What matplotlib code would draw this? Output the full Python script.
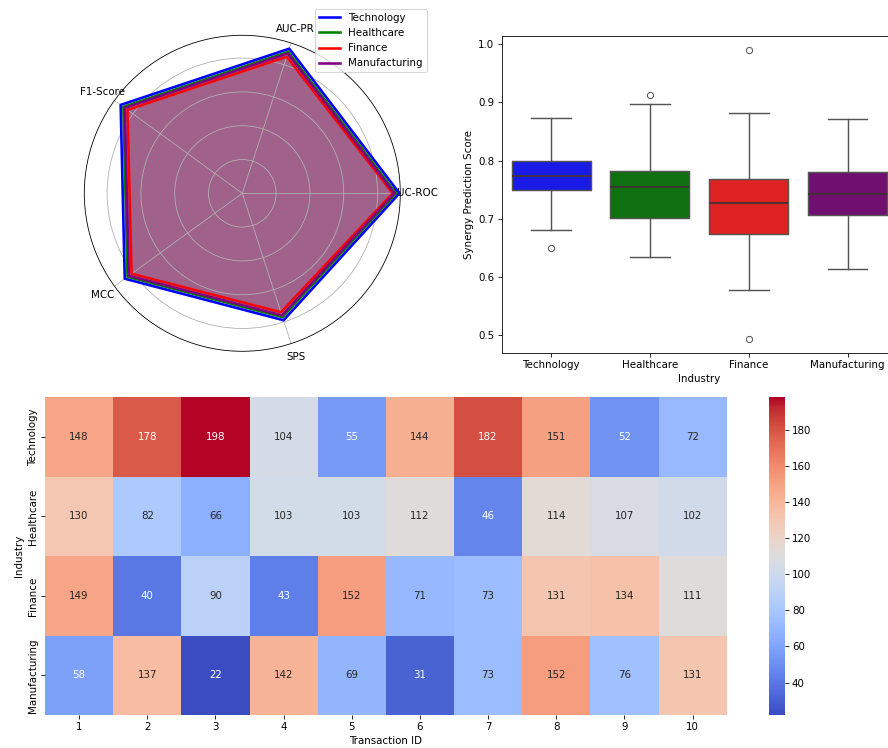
import numpy as np
import matplotlib
matplotlib.use("Agg")
import matplotlib.pyplot as plt
import seaborn as sns

# ---------------- data ----------------
industries = ["Technology", "Healthcare", "Finance", "Manufacturing"]
colors = ["blue", "green", "red", "purple"]
metrics = ["AUC-ROC", "AUC-PR", "F1-Score", "MCC", "SPS"]
radar_tech = [0.93, 0.90, 0.89, 0.86, 0.79]
radar_health = [0.91, 0.88, 0.87, 0.84, 0.77]
radar_fin = [0.89, 0.85, 0.84, 0.81, 0.74]
radar_manu = [0.90, 0.87, 0.86, 0.83, 0.76]

# box stats
box_med = [0.774, 0.755, 0.727, 0.743]
box_q1 = [0.749, 0.701, 0.674, 0.707]
box_q3 = [0.800, 0.782, 0.768, 0.781]
box_lo = [0.681, 0.635, 0.578, 0.613]
box_hi = [0.873, 0.898, 0.882, 0.872]
box_fliers = [[0.649], [0.913], [0.990, 0.493], []]

transaction_ids = list(range(1, 11))
heat_tech = [148, 178, 198, 104, 55, 144, 182, 151, 52, 72]
heat_health = [130, 82, 66, 103, 103, 112, 46, 114, 107, 102]
heat_fin = [149, 40, 90, 43, 152, 71, 73, 131, 134, 111]
heat_manu = [58, 137, 22, 142, 69, 31, 73, 152, 76, 131]

W, H = 888, 748
DPI = 74
fig = plt.figure(figsize=(W / DPI, H / DPI), dpi=DPI)


def rect(x0, y0, x1, y1):
    return [x0 / W, (H - y1) / H, (x1 - x0) / W, (y1 - y0) / H]


# ---------------- radar ----------------
ax1 = fig.add_axes(rect(84.3, 35.3, 400.3, 351.3), projection="polar")
angles = np.linspace(0, 2 * np.pi, len(metrics), endpoint=False).tolist()
angles_c = angles + angles[:1]
for name, vals, c in zip(industries, [radar_tech, radar_health, radar_fin, radar_manu], colors):
    v = list(vals) + vals[:1]
    ax1.plot(angles_c, v, color=c, linewidth=2.5, label=name)
    ax1.fill(angles_c, v, color=c, alpha=0.25)
ax1.set_xticks(angles)
ax1.set_xticklabels(metrics)
ax1.set_ylim(0, 0.935)
ax1.set_yticks([0.2, 0.4, 0.6, 0.8])
ax1.set_yticklabels([])
ax1.legend(loc="upper right", bbox_to_anchor=(1.1, 1.1))

# ---------------- boxplot ----------------
ax2 = fig.add_axes(rect(501.7, 35.7, 897.0, 352.7))
stats = []
for i, name in enumerate(industries):
    stats.append(dict(med=box_med[i], q1=box_q1[i], q3=box_q3[i],
                      whislo=box_lo[i], whishi=box_hi[i],
                      fliers=box_fliers[i], label=name))
lc = (0.33, 0.33, 0.33)
box_face = [(0.1, 0.1, 0.9), (0.06, 0.44, 0.06), (0.87, 0.13, 0.13), (0.44, 0.06, 0.44)]
bp = ax2.bxp(stats, positions=range(4), widths=0.8, patch_artist=True,
             boxprops=dict(edgecolor=lc, linewidth=1.4),
             whiskerprops=dict(color=lc, linewidth=1.4),
             capprops=dict(color=lc, linewidth=1.4),
             medianprops=dict(color=(0.25, 0.2, 0.2), linewidth=1.8),
             flierprops=dict(marker="o", markerfacecolor="none",
                             markeredgecolor=lc, markersize=6, linewidth=0))
for patch, fc in zip(bp["boxes"], box_face):
    patch.set_facecolor(fc)
for cap in bp["caps"]:
    xd = cap.get_xdata()
    m = np.mean(xd)
    cap.set_xdata([m - 0.2, m + 0.2])
ax2.set_xlim(-0.5, 3.5)
ax2.set_ylim(0.4696, 1.0148)
ax2.set_xticks(range(4))
ax2.set_xticklabels(industries)
ax2.set_xlabel("Industry")
ax2.set_ylabel("Synergy Prediction Score")

# ---------------- heatmap ----------------
ax3 = fig.add_axes(rect(45, 397.3, 726.7, 715))
cax = fig.add_axes(rect(769, 397.3, 784.7, 715))
data = np.array([heat_tech, heat_health, heat_fin, heat_manu])
sns.heatmap(data, ax=ax3, cbar_ax=cax, cmap="coolwarm", annot=True, fmt="d",
            xticklabels=transaction_ids, yticklabels=industries)
ax3.set_yticklabels(industries, rotation=90, va="center")
ax3.set_xlabel("Transaction ID")
ax3.set_ylabel("Industry")
cax.set_yticks([40, 60, 80, 100, 120, 140, 160, 180])

fig.savefig("out.png", dpi=DPI)
